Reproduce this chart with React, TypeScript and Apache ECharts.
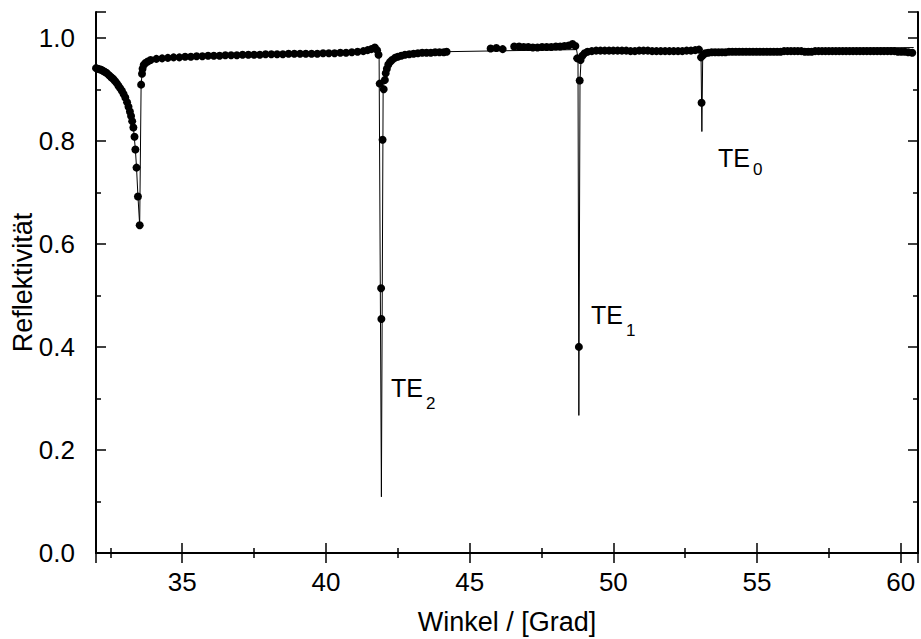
import React, { useEffect, useRef } from "react";
import * as echarts from "echarts";

// Measured reflectivity (dots): angle in degrees, reflectivity
const dotAngles: number[] = [
  32.00, 32.06, 32.12, 32.18, 32.24, 32.30, 32.36, 32.42, 32.48, 32.54, 32.60, 32.66, 32.72, 32.78, 32.84,
  32.90, 32.96, 33.02, 33.08, 33.13, 33.18, 33.22, 33.26, 33.30, 33.34, 33.37, 33.41, 33.46, 33.52,
  33.57, 33.60, 33.62, 33.66, 33.72, 33.80, 33.90,
  34.10, 34.30, 34.50, 34.70, 34.90, 35.10, 35.30, 35.50, 35.70, 35.90, 36.10, 36.30, 36.50, 36.70, 36.90,
  37.10, 37.30, 37.50, 37.70, 37.90, 38.10, 38.30, 38.50, 38.70, 38.90, 39.10, 39.30, 39.50, 39.70, 39.90,
  40.10, 40.30, 40.50, 40.70, 40.90, 41.10, 41.30, 41.45, 41.58, 41.70, 41.78, 41.83,
  41.87, 41.92, 41.93, 41.97, 42.01, 42.05, 42.08, 42.12, 42.17, 42.23, 42.30, 42.40, 42.50, 42.62, 42.75,
  42.90, 43.05, 43.20, 43.35, 43.50, 43.65, 43.80, 43.95, 44.10, 44.20,
  45.73, 45.93, 46.15,
  46.55, 46.72, 46.88, 47.04, 47.20, 47.36, 47.52, 47.68, 47.84, 48.00, 48.15, 48.30, 48.45, 48.58, 48.68,
  48.74, 48.80, 48.83, 48.86, 48.92, 49.00, 49.10, 49.25,
  49.40, 49.55, 49.70, 49.85, 50.00, 50.15, 50.30, 50.45, 50.60, 50.75, 50.90, 51.05, 51.20, 51.35, 51.50,
  51.65, 51.80, 51.95, 52.10, 52.25, 52.40, 52.55, 52.70, 52.85, 52.98,
  53.05, 53.07, 53.12, 53.20,
  53.30, 53.42, 53.54, 53.66, 53.78, 53.90, 54.02, 54.14, 54.26, 54.38, 54.50, 54.62, 54.74, 54.86, 54.98,
  55.10, 55.22, 55.34, 55.46, 55.58, 55.70, 55.82, 55.94, 56.06, 56.18, 56.30, 56.42, 56.54, 56.66, 56.78,
  56.90, 57.02, 57.14, 57.26, 57.38, 57.50, 57.62, 57.74, 57.86, 57.98, 58.10, 58.22, 58.34, 58.46, 58.58,
  58.70, 58.82, 58.94, 59.06, 59.18, 59.30, 59.42, 59.54, 59.66, 59.78, 59.90, 60.02, 60.14, 60.26, 60.40,
];
const dotValues: number[] = [
  0.941, 0.940, 0.939, 0.938, 0.936, 0.934, 0.932, 0.929, 0.926, 0.923, 0.920, 0.916, 0.912, 0.907, 0.902,
  0.897, 0.891, 0.884, 0.875, 0.866, 0.857, 0.848, 0.838, 0.826, 0.808, 0.783, 0.748, 0.692, 0.636,
  0.909, 0.930, 0.940, 0.947, 0.951, 0.954, 0.957,
  0.959, 0.960, 0.961, 0.962, 0.962, 0.963, 0.963, 0.964, 0.964, 0.965, 0.965, 0.965, 0.966, 0.966, 0.966,
  0.967, 0.967, 0.967, 0.967, 0.968, 0.968, 0.968, 0.968, 0.969, 0.969, 0.969, 0.969, 0.969, 0.969, 0.970,
  0.970, 0.970, 0.971, 0.971, 0.972, 0.973, 0.974, 0.976, 0.978, 0.981, 0.976, 0.967,
  0.911, 0.514, 0.454, 0.802, 0.900, 0.918, 0.931, 0.940, 0.948, 0.953, 0.957, 0.961, 0.963, 0.965, 0.967,
  0.968, 0.969, 0.970, 0.971, 0.971, 0.971, 0.972, 0.972, 0.972, 0.973,
  0.979, 0.980, 0.978,
  0.983, 0.983, 0.982, 0.982, 0.981, 0.981, 0.982, 0.982, 0.982, 0.983, 0.983, 0.984, 0.985, 0.988, 0.984,
  0.960, 0.400, 0.917, 0.957, 0.965, 0.970, 0.973, 0.974,
  0.975, 0.975, 0.975, 0.975, 0.975, 0.975, 0.975, 0.975, 0.974, 0.974, 0.975, 0.975, 0.975, 0.974, 0.974,
  0.974, 0.974, 0.974, 0.974, 0.974, 0.974, 0.975, 0.975, 0.976, 0.977,
  0.962, 0.874, 0.966, 0.970,
  0.971, 0.972, 0.972, 0.972, 0.972, 0.972, 0.973, 0.973, 0.973, 0.973, 0.973, 0.973, 0.973, 0.973, 0.973,
  0.973, 0.973, 0.973, 0.973, 0.973, 0.973, 0.973, 0.974, 0.974, 0.974, 0.974, 0.974, 0.974, 0.973, 0.973,
  0.973, 0.974, 0.974, 0.974, 0.974, 0.974, 0.974, 0.974, 0.974, 0.974, 0.974, 0.974, 0.974, 0.974, 0.974,
  0.974, 0.974, 0.974, 0.974, 0.974, 0.974, 0.974, 0.974, 0.974, 0.974, 0.973, 0.973, 0.973, 0.972, 0.971,
];

// Thin connecting / fitted curve
const lineAngles: number[] = [
  32.00, 32.30, 32.60, 32.90, 33.08, 33.22, 33.30, 33.37, 33.41, 33.46, 33.52, 33.57, 33.62, 33.72, 33.90,
  34.50, 36.00, 38.00, 40.00, 41.00, 41.60, 41.72, 41.80, 41.85, 41.93, 41.99, 42.08, 42.20, 42.50, 43.00,
  44.20, 48.72, 48.77, 48.80, 48.84, 48.88, 49.00, 49.50, 51.00, 53.00, 53.05, 53.08, 53.11, 53.30, 55.00,
  57.00, 60.45,
];
const lineValues: number[] = [
  0.941, 0.934, 0.920, 0.897, 0.875, 0.848, 0.826, 0.783, 0.748, 0.692, 0.636, 0.909, 0.940, 0.951, 0.957,
  0.962, 0.966, 0.970, 0.973, 0.975, 0.979, 0.981, 0.975, 0.965, 0.109, 0.900, 0.931, 0.950, 0.963, 0.969,
  0.973, 0.977, 0.960, 0.267, 0.917, 0.960, 0.970, 0.974, 0.975, 0.976, 0.970, 0.818, 0.968, 0.972, 0.976,
  0.979, 0.981,
];

const xTickLabels: number[] = [35, 40, 45, 50, 55, 60];
const yTickLabels: number[] = [0, 0.2, 0.4, 0.6, 0.8, 1.0];

const FONT = "'Liberation Sans', Arial, sans-serif";

export default function App() {
  const ref = useRef<HTMLDivElement>(null);
  useEffect(() => {
    if (!ref.current) return;
    const chart = echarts.init(ref.current, undefined, { renderer: "svg" });
    const dots = dotAngles.map((a, i) => [a, dotValues[i]]);
    const line = lineAngles.map((a, i) => [a, lineValues[i]]);
    const isXLabel = (v: number) => xTickLabels.some((t) => Math.abs(t - v) < 1e-6);
    const isYLabel = (v: number) => yTickLabels.some((t) => Math.abs(t - v) < 1e-6);
    const axisCommon = {
      axisLine: { show: true, lineStyle: { color: "#000", width: 2 } },
      axisTick: { show: true, inside: true, length: 10, lineStyle: { color: "#000", width: 1.5 } },
      minorTick: { show: true, splitNumber: 2, length: 5, lineStyle: { color: "#000", width: 1.5 } },
      splitLine: { show: false },
      minorSplitLine: { show: false },
    };
    const sub = (t: string, x: number, y: number, big: number, small: number, dx: number, dy: number) => ({
      type: "group",
      children: [
        { type: "text", x, y, style: { text: "TE", font: `${big}px ${FONT}`, fill: "#000" } },
        { type: "text", x: x + dx, y: y + dy, style: { text: t, font: `${small}px ${FONT}`, fill: "#000" } },
      ],
    });
    chart.setOption({
      animation: false,
      backgroundColor: "#fff",
      grid: {
        left: 96,
        right: 3,
        top: 12,
        bottom: 86,
        containLabel: false,
        outerBoundsMode: "none",
      },
      xAxis: [
        {
          type: "value",
          min: 32,
          max: 60.6,
          splitNumber: 5,
          position: "bottom",
          name: "Winkel / [Grad]",
          nameLocation: "middle",
          nameGap: 55,
          nameMoveOverlap: false,
          nameTextStyle: { fontFamily: FONT, fontSize: 27, color: "#000" },
          axisLabel: {
            margin: 16,
            fontFamily: FONT,
            fontSize: 26,
            color: "#000",
            formatter: (v: number) => (isXLabel(v) ? String(Math.round(v)) : ""),
          },
          ...axisCommon,
        },
        {
          type: "value",
          min: 32,
          max: 60.6,
          splitNumber: 5,
          position: "top",
          axisLabel: { show: false },
          ...axisCommon,
        },
      ],
      yAxis: [
        {
          type: "value",
          min: 0,
          max: 1.05,
          interval: 0.2,
          position: "left",
          name: "Reflektivität",
          nameLocation: "middle",
          nameGap: 60,
          nameMoveOverlap: false,
          nameTextStyle: { fontFamily: FONT, fontSize: 27, color: "#000" },
          axisLabel: {
            margin: 21,
            fontFamily: FONT,
            fontSize: 26,
            color: "#000",
            formatter: (v: number) => (isYLabel(v) ? v.toFixed(1) : ""),
          },
          ...axisCommon,
        },
        {
          type: "value",
          min: 0,
          max: 1.05,
          interval: 0.2,
          position: "right",
          axisLabel: { show: false },
          ...axisCommon,
        },
      ],
      series: [
        {
          type: "line",
          data: line,
          xAxisIndex: 0,
          yAxisIndex: 0,
          showSymbol: false,
          symbol: "none",
          lineStyle: { color: "#000", width: 1 },
          z: 2,
        },
        {
          type: "scatter",
          data: dots,
          xAxisIndex: 0,
          yAxisIndex: 0,
          symbol: "circle",
          symbolSize: 8,
          itemStyle: { color: "#000", opacity: 1 },
          z: 3,
        },
      ],
      graphic: [
        sub("2", 391, 375, 25, 17, 35, 20),
        sub("1", 591, 302, 25, 17, 35, 20),
        sub("0", 718, 145, 25, 17, 35, 16),
      ],
    });
    return () => chart.dispose();
  }, []);
  return (
    <div
      ref={ref}
      style={{ position: "absolute", left: 0, top: 0, width: 921, height: 639 }}
    />
  );
}
